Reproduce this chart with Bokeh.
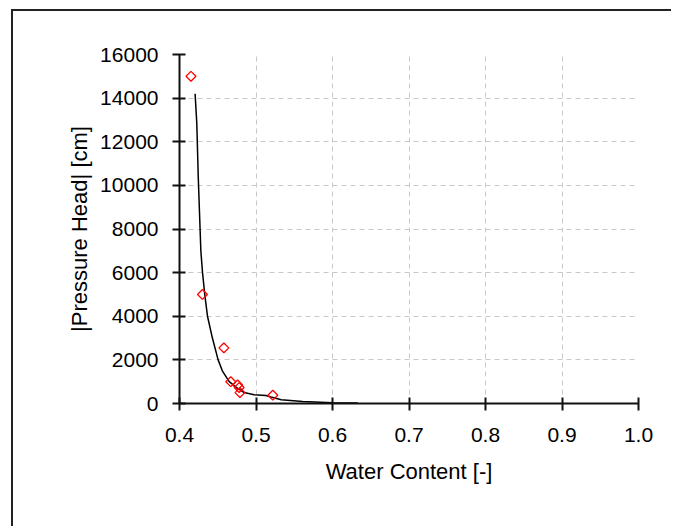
from bokeh.plotting import figure
from bokeh.models import Range1d, FixedTicker, PrintfTickFormatter, BasicTickFormatter
from bokeh.embed import file_html
from bokeh.resources import INLINE

# Observed retention data
theta_obs = [0.415, 0.430, 0.458, 0.467, 0.476, 0.478, 0.479, 0.522]
h_obs = [15000, 5000, 2550, 1000, 850, 730, 500, 380]

# Fitted retention curve
theta_fit = [0.4204, 0.4226, 0.4245, 0.4262, 0.4279, 0.4301, 0.4330, 0.4366, 0.4430,
             0.4505, 0.4560, 0.4650, 0.4758, 0.4845, 0.4975, 0.5130, 0.5196, 0.5330,
             0.5610, 0.6000, 0.6330]
h_fit = [14200, 12850, 10400, 8700, 7000, 6000, 5000, 4000, 3000,
         2000, 1500, 1000, 700, 500, 400, 370, 300, 170,
         90, 40, 20]

x_ticks = [0.4, 0.5, 0.6, 0.7, 0.8, 0.9, 1.0]
y_ticks = [0, 2000, 4000, 6000, 8000, 10000, 12000, 14000, 16000]

FONT = "Liberation Sans"

p = figure(width=660, height=517,
           x_range=Range1d(0.4, 1.0), y_range=Range1d(0, 16000),
           output_backend="svg", toolbar_location=None,
           min_border_left=166, min_border_right=35,
           min_border_top=43, min_border_bottom=125)

# outer panel frame: dark only along the left and top 2 px of the backing box
p.styles = {"margin-left": "11px", "margin-top": "9px",
            "padding-left": "2px", "padding-top": "2px",
            "background-color": "#ffffff",
            "background-image": ("linear-gradient(to right, #222222 0px, #222222 2px, "
                                 "rgba(255,255,255,0) 2px), "
                                 "linear-gradient(to bottom, #222222 0px, #222222 2px, "
                                 "rgba(255,255,255,0) 2px)")}

p.outline_line_color = None
p.background_fill_color = "white"
p.border_fill_color = "white"

p.xaxis.ticker = FixedTicker(ticks=x_ticks)
p.yaxis.ticker = FixedTicker(ticks=y_ticks)
p.xaxis.formatter = PrintfTickFormatter(format="%.1f")
p.yaxis.formatter = BasicTickFormatter(use_scientific=False)

p.xgrid.ticker = FixedTicker(ticks=x_ticks[1:])
p.ygrid.ticker = FixedTicker(ticks=y_ticks[1:])
for g in (p.xgrid, p.ygrid):
    g.grid_line_color = "#c8c8c8"
    g.grid_line_dash = "5 4"
    g.grid_line_width = 1

for ax in (p.xaxis, p.yaxis):
    ax.axis_line_width = 2
    ax.axis_line_color = "#111111"
    ax.major_tick_line_width = 2
    ax.major_tick_line_color = "#111111"
    ax.major_tick_in = 6
    ax.major_tick_out = 7
    ax.minor_tick_line_color = None
    ax.major_label_text_font = FONT
    ax.major_label_text_font_size = "21px"
    ax.major_label_text_color = "#000000"
    ax.axis_label_text_font = FONT
    ax.axis_label_text_font_size = "22px"
    ax.axis_label_text_font_style = "normal"
    ax.axis_label_text_color = "#000000"

p.xaxis.major_label_standoff = 17
p.yaxis.major_label_standoff = 14
p.xaxis.axis_label_standoff = 14
p.yaxis.axis_label_standoff = 5

p.xaxis.axis_label = "Water Content [-]"
p.yaxis.axis_label = "|Pressure Head| [cm]"

p.line(theta_fit, h_fit, line_color="black", line_width=1.5)
p.scatter(theta_obs, h_obs, marker="square", angle=0.785398, size=7,
          fill_color=None, line_color="#ff0000", line_width=1.3)

open("out.html", "w").write(file_html(p, INLINE))
